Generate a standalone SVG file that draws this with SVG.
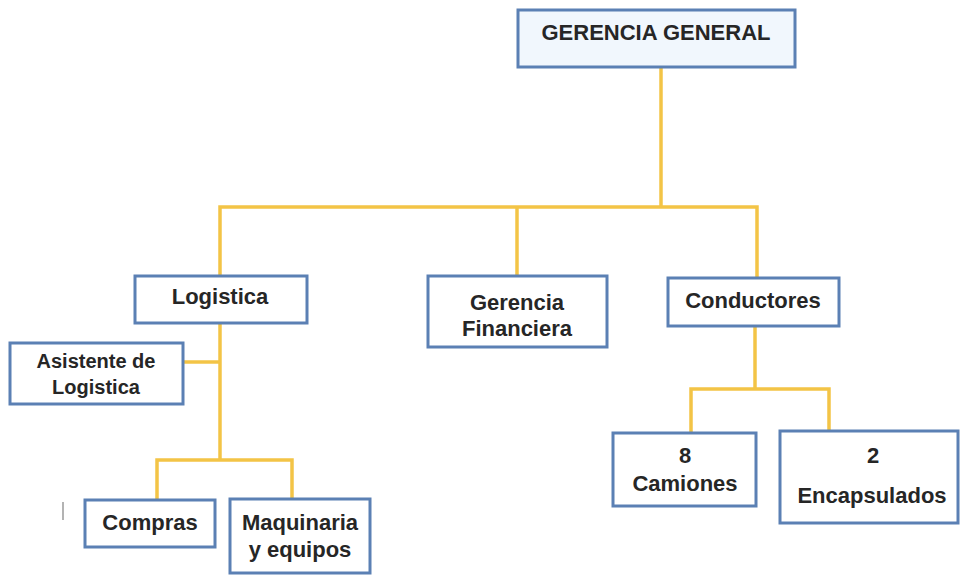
<svg xmlns="http://www.w3.org/2000/svg" width="962" height="576" viewBox="0 0 962 576">
  <style>
    .box { fill: #ffffff; stroke: #5b80b4; stroke-width: 3; }
    .top { fill: #f1f7fd; }
    .lbl { font-family: "Liberation Sans", Arial, sans-serif; font-weight: bold; font-size: 22px; fill: #262626; text-anchor: middle; }
    .sm { font-size: 20px; }
    .link { fill: none; stroke: #f3c446; stroke-width: 3.5; stroke-linejoin: miter; }
  </style>
  <rect width="962" height="576" fill="#ffffff"/>

  <!-- connectors -->
  <g id="connectors">
    <path class="link" d="M661 67 V207"/>
    <path class="link" d="M220 276 V207 H757 V278"/>
    <path class="link" d="M517 207 V276"/>
    <path class="link" d="M220 323 V460"/>
    <path class="link" d="M183 362 H220"/>
    <path class="link" d="M157 500 V460 H292 V499"/>
    <path class="link" d="M755 326 V389"/>
    <path class="link" d="M691 433 V389 H829 V431"/>
  </g>

  <!-- nodes -->
  <g id="gerencia-general">
    <rect class="box top" x="518" y="10" width="277" height="57"/>
    <text class="lbl" x="656" y="40">GERENCIA GENERAL</text>
  </g>
  <g id="logistica">
    <rect class="box" x="135" y="276" width="172" height="47"/>
    <text class="lbl" x="220" y="304">Logistica</text>
  </g>
  <g id="asistente-logistica">
    <rect class="box" x="10" y="343" width="173" height="61"/>
    <text class="lbl sm" x="96" y="368">Asistente de</text>
    <text class="lbl sm" x="96" y="394">Logistica</text>
  </g>
  <g id="gerencia-financiera">
    <rect class="box" x="428" y="276" width="179" height="71"/>
    <text class="lbl" x="517" y="310">Gerencia</text>
    <text class="lbl" x="517" y="336">Financiera</text>
  </g>
  <g id="conductores">
    <rect class="box" x="668" y="278" width="171" height="48"/>
    <text class="lbl" x="753" y="308">Conductores</text>
  </g>
  <g id="compras">
    <rect class="box" x="85" y="500" width="130" height="47"/>
    <text class="lbl" x="150" y="530">Compras</text>
  </g>
  <g id="maquinaria">
    <rect class="box" x="230" y="499" width="140" height="74"/>
    <text class="lbl" x="300" y="530">Maquinaria</text>
    <text class="lbl" x="300" y="557">y equipos</text>
  </g>
  <g id="camiones">
    <rect class="box" x="613" y="433" width="143" height="73"/>
    <text class="lbl" x="685" y="463">8</text>
    <text class="lbl" x="685" y="491">Camiones</text>
  </g>
  <g id="encapsulados">
    <rect class="box" x="780" y="431" width="178" height="92"/>
    <text class="lbl" x="873" y="463">2</text>
    <text class="lbl" x="872" y="503">Encapsulados</text>
  </g>

  <!-- stray mark at lower left -->
  <line x1="63" y1="502" x2="63" y2="520" stroke="#9a9a9a" stroke-width="1.5"/>
</svg>
